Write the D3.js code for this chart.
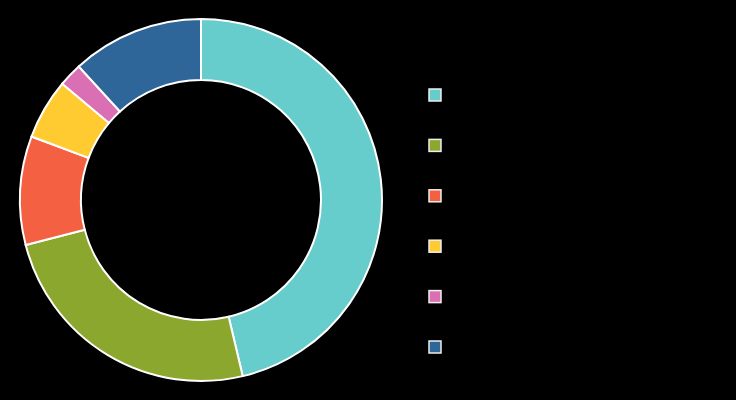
<!DOCTYPE html>
<html><head><meta charset="utf-8">
<script src="https://cdn.jsdelivr.net/npm/d3@7/dist/d3.min.js"></script>
<style>html,body{margin:0;padding:0;background:#000;}svg{display:block;}</style>
</head><body>
<svg id="chart" width="736" height="400"></svg>
<script>
const categories = ["A", "B", "C", "D", "E", "F"];
const values = [46.3, 24.7, 9.7, 5.4, 2.1, 11.8];
const colors = ["#66CDCC", "#8CA72E", "#F46142", "#FFCB31", "#DA6FB4", "#2F6699"];

const svg = d3.select("#chart");
const cx = 201, cy = 200, rOuter = 181, rInner = 120;
const data = categories.map((c, i) => ({cat: c, value: values[i], color: colors[i]}));
const pie = d3.pie().value(d => d.value).sort(null);
const arc = d3.arc().innerRadius(rInner).outerRadius(rOuter);

svg.append("g").attr("transform", `translate(${cx},${cy})`)
  .selectAll("path").data(pie(data)).join("path")
  .attr("d", arc).attr("fill", d => d.data.color)
  .attr("stroke", "#fff").attr("stroke-width", 2);

const ly = d3.scalePoint().domain(categories).range([95, 347]);
const lg = svg.append("g").selectAll("g").data(data).join("g")
  .attr("transform", d => `translate(435,${ly(d.cat)})`);
lg.append("rect").attr("x", -6).attr("y", -6).attr("width", 12).attr("height", 12)
  .attr("fill", d => d.color).attr("stroke", "#eee").attr("stroke-width", 1.5);
lg.append("text").attr("x", 16).attr("y", 4).attr("fill", "#000")
  .attr("font-family", "Lato, sans-serif").attr("font-size", 12).text(d => d.cat);
</script>
</body></html>
